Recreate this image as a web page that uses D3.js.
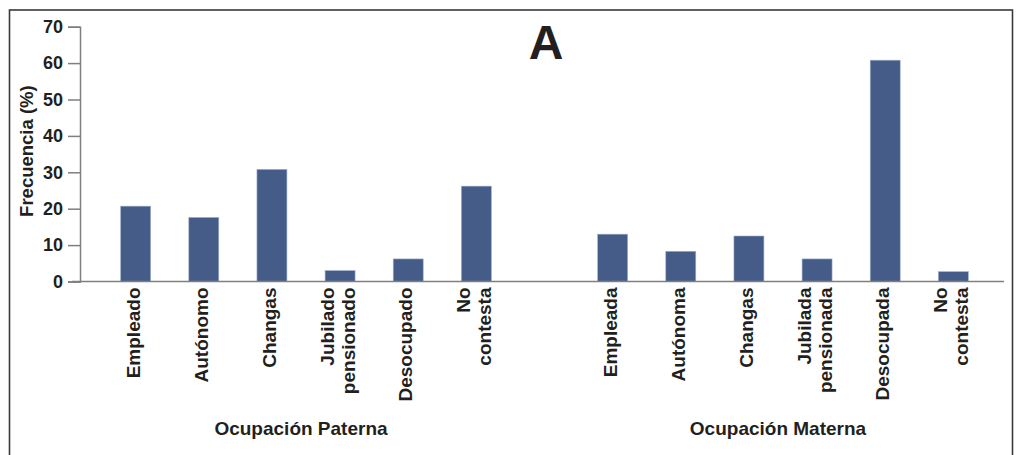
<!DOCTYPE html>
<html>
<head>
<meta charset="utf-8">
<script src="https://cdn.jsdelivr.net/npm/d3@7"></script>
<style>
  html, body { margin: 0; padding: 0; background: #fff; }
  svg { display: block; font-family: "Liberation Sans", Arial, Helvetica, sans-serif; }
</style>
</head>
<body>
<svg id="chart" width="1016" height="455"></svg>
<script>
// ---- data ----
const paternalLabels = [["Empleado"], ["Autónomo"], ["Changas"], ["Jubilado", "pensionado"], ["Desocupado"], ["No", "contesta"]];
const paternalValues = [20.7, 17.6, 30.8, 3.0, 6.2, 26.2];
const maternalLabels = [["Empleada"], ["Autónoma"], ["Changas"], ["Jubilada", "pensionada"], ["Desocupada"], ["No", "contesta"]];
const maternalValues = [13.0, 8.3, 12.5, 6.2, 60.8, 2.7];
const groupTitles = ["Ocupación Paterna", "Ocupación Materna"];
const yTicks = [0, 10, 20, 30, 40, 50, 60, 70];
const yTitle = "Frecuencia (%)";
const panelLabel = "A";

(function () {
// ---- build rows ----
const rows = [];
paternalLabels.forEach((l, i) => rows.push({ key: "P" + i, lines: l, value: paternalValues[i], group: 0 }));
const gapKey = "gap";
maternalLabels.forEach((l, i) => rows.push({ key: "M" + i, lines: l, value: maternalValues[i], group: 1 }));
const domain = rows.filter(r => r.group === 0).map(r => r.key)
  .concat([gapKey])
  .concat(rows.filter(r => r.group === 1).map(r => r.key));

const svg = d3.select("#chart");
const mLeft = 80, mRight = 1004, mTop = 26.7, mBottom = 281.5;

const x = d3.scaleBand().domain(domain).range([mLeft + 2.5, mRight + 2.5]).paddingInner(0.56).paddingOuter(0.56);
const y = d3.scaleLinear().domain([0, 70]).range([mBottom, mTop]);

const textColor = "#231f20";
const axisColor = "#7f7f7f";

// frame
svg.append("rect")
  .attr("x", 9.5).attr("y", 10).attr("width", 1003).attr("height", 460)
  .attr("fill", "none").attr("stroke", "#3a3a3a").attr("stroke-width", 1.6);

// bars
svg.append("g").selectAll("rect").data(rows).join("rect")
  .attr("x", d => x(d.key))
  .attr("width", x.bandwidth())
  .attr("y", d => y(d.value))
  .attr("height", d => y(0) - y(d.value))
  .attr("fill", "#465c88")
  .attr("stroke", "#9fb0cf")
  .attr("stroke-width", 0.6);

// y axis
const yAxis = svg.append("g").attr("transform", `translate(${mLeft},0)`)
  .call(d3.axisLeft(y).tickValues(yTicks).tickSize(12).tickPadding(5).tickFormat(d3.format("d")));
yAxis.select(".domain").attr("stroke", axisColor).attr("stroke-width", 1.5);
yAxis.selectAll(".tick line").attr("stroke", axisColor).attr("stroke-width", 1.5);
yAxis.selectAll(".tick text")
  .attr("fill", textColor).attr("font-size", 18).attr("font-weight", "bold")
  .attr("font-family", "Liberation Sans, Arial, sans-serif");

// x axis line
svg.append("line")
  .attr("x1", mLeft - 8).attr("x2", mRight)
  .attr("y1", y(0)).attr("y2", y(0))
  .attr("stroke", axisColor).attr("stroke-width", 1.5);

// category labels (rotated)
const lab = svg.append("g").selectAll("text").data(rows).join("text")
  .attr("transform", d => `translate(${x(d.key) + x.bandwidth() / 2},${y(0) + 6}) rotate(-90)`)
  .attr("text-anchor", "end")
  .attr("font-size", 19).attr("font-weight", "bold").attr("fill", textColor);
lab.each(function (d) {
  const t = d3.select(this);
  const n = d.lines.length;
  d.lines.forEach((line, i) => {
    const off = 4 + (i - (n - 1) / 2) * 21;
    t.append("tspan").attr("x", 0).attr("y", off).text(line);
  });
});

// group titles
[0, 1].forEach(g => {
  const keys = rows.filter(r => r.group === g).map(r => r.key);
  const cx = (x(keys[0]) + x(keys[keys.length - 1]) + x.bandwidth()) / 2 - 5;
  svg.append("text")
    .attr("x", cx).attr("y", 435)
    .attr("text-anchor", "middle")
    .attr("font-size", 19).attr("font-weight", "bold").attr("fill", textColor)
    .text(groupTitles[g]);
});

// y title
svg.append("text")
  .attr("transform", `translate(33,${(mTop + mBottom) / 2 - 3}) rotate(-90)`)
  .attr("text-anchor", "middle")
  .attr("font-size", 18.5).attr("font-weight", "bold").attr("fill", textColor)
  .text(yTitle);

// panel label
svg.append("text")
  .attr("x", 546).attr("y", 59)
  .attr("text-anchor", "middle")
  .attr("font-size", 48).attr("font-weight", "bold").attr("fill", textColor)
  .text(panelLabel);
})();
</script>
</body>
</html>
